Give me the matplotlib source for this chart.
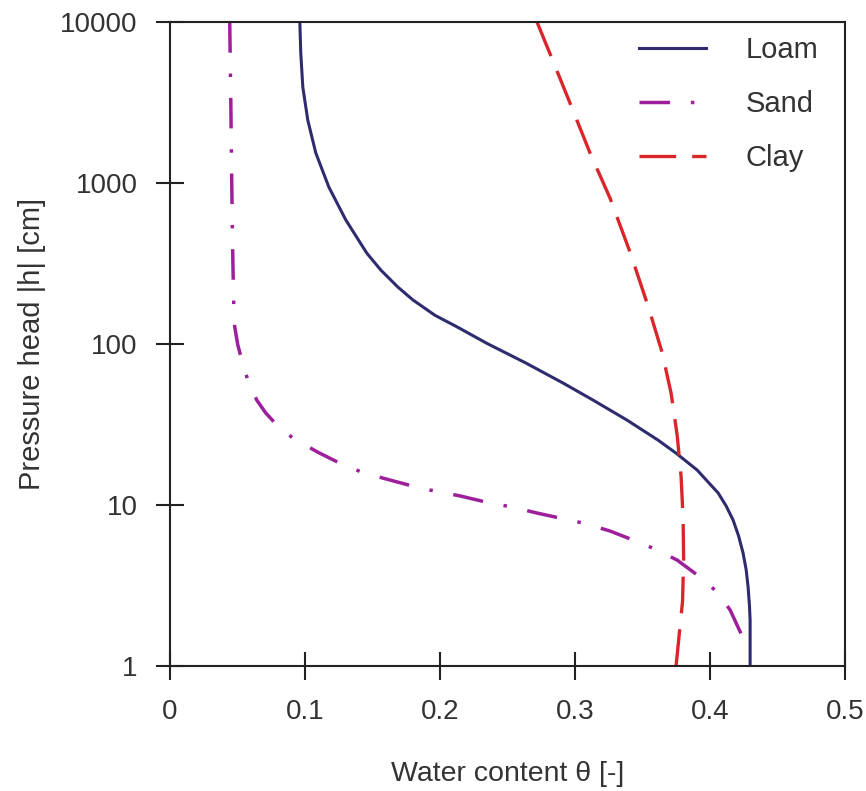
import matplotlib
matplotlib.use("Agg")
import matplotlib.pyplot as plt

# --------------------------------------------
# Data (theta [-], |h| [cm])
# --------------------------------------------
loam_h = [10000, 6420, 3950, 2460, 1540, 944, 589, 367, 288, 226, 188, 151, 128, 101, 76.2,
          57.3, 44.9, 33.7, 25.3, 21.0, 16.5, 13.9, 11.9, 9.86, 8.07, 6.42, 5.03, 3.95, 3.10,
          2.39, 1.93, 1]
loam_theta = [0.0963, 0.0970, 0.0985, 0.1022, 0.1081, 0.1178, 0.1304, 0.1459, 0.1563, 0.1689,
              0.1800, 0.1963, 0.2126, 0.2348, 0.2637, 0.2911, 0.3133, 0.3385, 0.3615, 0.3748,
              0.3904, 0.3985, 0.4059, 0.4119, 0.4170, 0.4211, 0.4244, 0.4267, 0.4281, 0.4291,
              0.4296, 0.4296]

sand_h = [10000, 3280, 1000, 333, 175, 128, 98.6, 79.6, 59.7, 44.9, 37.3, 31.4, 26.1, 21.3,
          18.2, 16.0, 14.7, 13.1, 12.2, 11.4, 10.4, 9.72, 8.92, 8.30, 7.73, 6.90, 6.06, 5.33,
          4.55, 3.57, 2.88, 2.23, 1.49, 1.26]
sand_theta = [0.0444, 0.0452, 0.0459, 0.0467, 0.0474, 0.0481, 0.0504, 0.0533, 0.0578, 0.0644,
              0.0711, 0.0793, 0.0911, 0.1096, 0.1259, 0.1422, 0.1578, 0.1800, 0.1963, 0.2148,
              0.2348, 0.2533, 0.2719, 0.2889, 0.3059, 0.3259, 0.3430, 0.3593, 0.3756, 0.3926,
              0.4052, 0.4148, 0.4244, 0.4274]

clay_h = [10000, 5730, 3140, 1540, 807, 373, 172, 89.2, 49.6, 27.2, 15.1, 8.30, 4.62, 2.53, 1]
clay_theta = [0.2719, 0.2837, 0.2963, 0.3111, 0.3259, 0.3407, 0.3541, 0.3644, 0.3711, 0.3756,
              0.3785, 0.3800, 0.3804, 0.3796, 0.3748]

x_ticks = [0, 0.1, 0.2, 0.3, 0.4, 0.5]
x_labels = ["0", "0.1", "0.2", "0.3", "0.4", "0.5"]
y_ticks = [1, 10, 100, 1000, 10000]
y_labels = ["1", "10", "100", "1000", "10000"]

# --------------------------------------------
# Plot
# --------------------------------------------
plt.rcParams["font.family"] = ["Liberation Sans", "DejaVu Sans"]
txt = "#333333"

fig = plt.figure(figsize=(8.66, 7.91), dpi=100)
ax = fig.add_axes([0.196, 0.158, 0.78, 0.814])

ax.plot(loam_theta, loam_h, color="#2E2C6E", linewidth=2.2, label="Loam")
ax.plot(sand_theta, sand_h, color="#9E1F9C", linewidth=2.5,
        linestyle=(0, (8.8, 6, 1.0, 6)), label="Sand")
ax.plot(clay_theta, clay_h, color="#D9262B", linewidth=2.4,
        linestyle=(0, (11, 4.8)), label="Clay")

ax.set_yscale("log")
ax.set_xlim(0, 0.5)
ax.set_ylim(1, 10000)
ax.set_xticks(x_ticks, x_labels)
ax.set_yticks(y_ticks, y_labels)
ax.minorticks_off()

ax.tick_params(direction="inout", length=20, width=1.5, labelsize=20,
               colors="#222222", labelcolor=txt)
ax.tick_params(axis="x", pad=14)
ax.tick_params(axis="y", pad=13)
for s in ax.spines.values():
    s.set_linewidth(1.5)
    s.set_color("#222222")

ax.set_xlabel("Water content θ [-]", fontsize=20.5, color=txt, labelpad=26)
ax.set_ylabel("Pressure head |h| [cm]", fontsize=21, color=txt, labelpad=10)

leg = ax.legend(loc="upper right", bbox_to_anchor=(0.986, 1.006), frameon=False,
                fontsize=21, handlelength=2.3, handletextpad=1.35, labelspacing=0.9,
                borderaxespad=0.2)
for t in leg.get_texts():
    t.set_color(txt)

plt.savefig("out.png", dpi=100)
